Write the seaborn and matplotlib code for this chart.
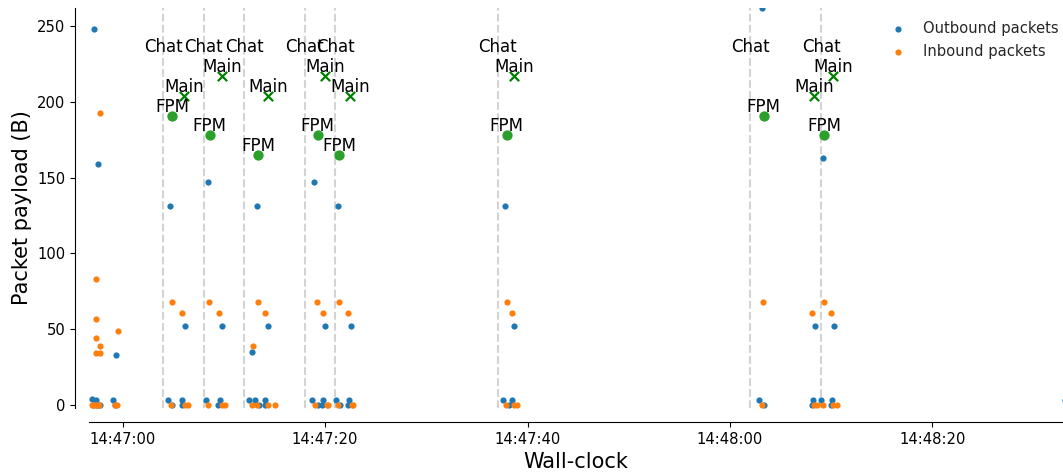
import numpy as np
import pandas as pd
import matplotlib
matplotlib.use("Agg")
import matplotlib.pyplot as plt
import matplotlib.dates as mdates
import seaborn as sns

# Capture start; all times below are seconds relative to it
START = pd.Timestamp("2023-01-01 14:47:00")

# Outbound packets: (seconds, payload bytes)
out_t = [-2.81, -2.41, -3.00, -2.64, -2.93, -2.54, -2.24, -0.66, -0.93, -0.80,
         4.67, 6.13, 4.50, 4.87, 5.89, 5.89,
         8.40, 9.81, 8.20, 9.58, 9.39,
         13.24, 14.39, 12.75, 12.51, 13.07, 14.09, 13.47, 14.09,
         18.93, 20.02, 18.74, 19.30, 19.82, 19.72,
         21.25, 22.56, 21.05, 21.48, 22.36, 22.26,
         37.81, 38.70, 37.61, 38.14, 38.50,
         63.14, 62.90, 63.40,
         69.17, 68.38, 70.26, 68.18, 68.11, 68.97, 70.06, 69.96,
         93.1]
out_y = [248, 159, 4, 3, 0, 0, 0, 33, 3, 0,
         131, 52, 3, 0, 3, 0,
         147, 52, 3, 3, 0,
         131, 52, 35, 3, 3, 3, 0, 0,
         147, 52, 3, 0, 3, 0,
         131, 52, 3, 0, 3, 0,
         131, 52, 3, 0, 3,
         262, 3, 0,
         163, 52, 52, 3, 0, 3, 3, 0,
         3]

# Inbound packets: (seconds, payload bytes)
in_t = [-2.24, -2.67, -2.67, -2.67, -2.24, -2.67, -2.24, -0.43,
        -3.05, -2.85, -2.65, -2.45, -2.30, -0.76, -0.56,
        4.87, 5.89, 4.74, 6.16, 6.42,
        8.56, 9.49, 8.46, 9.78, 10.11,
        13.40, 14.09, 12.90, 12.75, 13.30, 14.39, 15.08,
        19.23, 19.82, 18.97, 20.16, 20.30,
        21.37, 22.29, 21.25, 22.63, 22.80,
        37.94, 38.47, 37.85, 38.70, 38.99,
        63.30, 63.14,
        68.14, 69.33, 69.99, 68.28, 68.64, 69.20, 70.19, 70.55]
in_y = [193, 83, 57, 44, 39, 34, 34, 49,
        0, 0, 0, 0, 0, 0, 0,
        68, 61, 0, 0, 0,
        68, 61, 0, 0, 0,
        68, 61, 39, 0, 0, 0, 0,
        68, 61, 0, 0, 0,
        68, 61, 0, 0, 0,
        68, 61, 0, 0, 0,
        68, 0,
        61, 68, 61, 0, 0, 0, 0, 0]

# Application events
chat_t = [4.0, 8.0, 12.0, 18.0, 21.0, 37.05, 62.0, 69.0]
chat_y = [230] * len(chat_t)
fpm_t = [4.87, 8.60, 13.40, 19.27, 21.40, 37.94, 63.34, 69.33]
fpm_y = [191, 178, 165, 178, 165, 178, 191, 178]
main_t = [6.09, 9.81, 14.36, 20.02, 22.50, 38.70, 68.34, 70.22]
main_y = [204, 217, 204, 217, 204, 217, 204, 217]

x_range = (-3.33, 92.9)
y_range = (-2, 262)
y_ticks = [0, 50, 100, 150, 200, 250]


def at(sec):
    return START + pd.to_timedelta(np.asarray(sec, dtype=float), unit="s")


def num(sec):
    return mdates.date2num((START + pd.Timedelta(seconds=float(sec))).to_pydatetime())


sns.set_style("ticks")
plt.rcParams["font.family"] = ["DejaVu Sans"]

fig = plt.figure(figsize=(10.63, 4.76), dpi=100)
ax = fig.add_axes([0.0837, 0.1429, 0.9163, 0.8403])

for t in chat_t:
    ax.axvline(num(t), color="lightgray", ls="--", lw=1.5, zorder=0)

sns.scatterplot(x=at(out_t), y=out_y, s=20, linewidth=0, color="#1f77b4",
                label="Outbound packets", ax=ax, zorder=2)
sns.scatterplot(x=at(in_t), y=in_y, s=20, linewidth=0, color="#ff7f0e",
                label="Inbound packets", ax=ax, zorder=2)

sns.scatterplot(x=at(fpm_t), y=fpm_y, s=55, linewidth=0, color="#2ca02c",
                legend=False, ax=ax, zorder=3)
sns.scatterplot(x=at(main_t), y=main_y, s=45, marker="x", linewidth=1.6,
                color="green", legend=False, ax=ax, zorder=3)

for t, y in zip(chat_t, chat_y):
    ax.text(num(t), y, "Chat", ha="center", va="bottom", fontsize=12, color="black")
for t, y in zip(fpm_t, fpm_y):
    ax.text(num(t), y, "FPM", ha="center", va="bottom", fontsize=12, color="black")
for t, y in zip(main_t, main_y):
    ax.text(num(t), y, "Main", ha="center", va="bottom", fontsize=12, color="black")

ax.set_xlim(num(x_range[0]), num(x_range[1]))
ax.set_ylim(*y_range)
ax.set_yticks(y_ticks)
ax.xaxis.set_major_locator(mdates.SecondLocator(bysecond=[0, 20, 40]))
ax.xaxis.set_major_formatter(mdates.DateFormatter("%H:%M:%S"))
ax.tick_params(labelsize=10.6, colors="black")

ax.set_xlabel("Wall-clock", fontsize=15, color="black")
ax.set_ylabel("Packet payload (B)", fontsize=15, color="black")

ax.legend(loc="upper right", bbox_to_anchor=(1.009, 1.0), frameon=False,
          fontsize=10.6, handletextpad=0.7)
sns.despine(ax=ax, offset=10)
for side in ("left", "bottom"):
    ax.spines[side].set_color("black")

fig.savefig("out.png", dpi=100)
